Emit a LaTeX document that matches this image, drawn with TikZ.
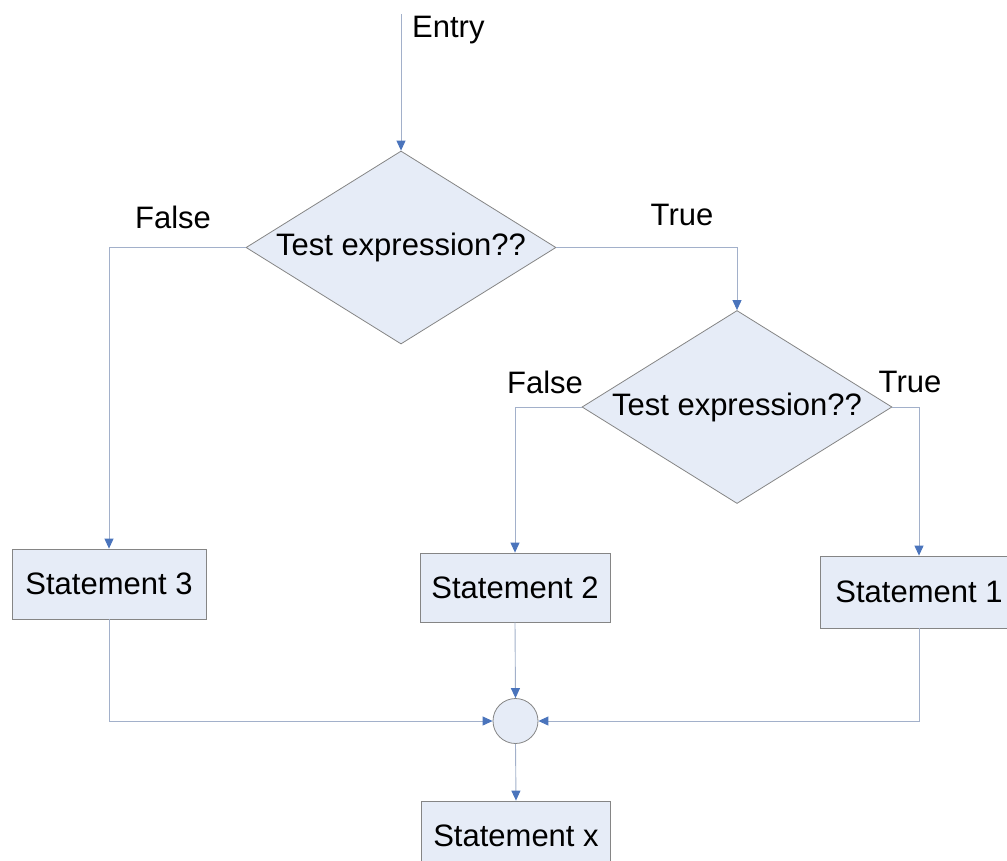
\documentclass[tikz,border=0pt]{standalone}
\usepackage{fontspec}
\setmainfont{Liberation Sans}
\usetikzlibrary{shapes.geometric,arrows.meta}
\definecolor{boxfill}{HTML}{E6ECF7}
\definecolor{boxline}{HTML}{858585}
\definecolor{connline}{HTML}{A2B0CA}
\definecolor{tipblue}{HTML}{4A74BC}
\tikzset{
  every node/.style={font=\fontsize{31}{37}\selectfont},
  decision/.style={diamond, draw=boxline, fill=boxfill, line width=0.8pt,
    aspect=1.6, inner sep=0pt, minimum width=310pt, minimum height=193pt},
  stmt/.style={rectangle, draw=boxline, fill=boxfill, line width=0.8pt,
    inner sep=0pt, minimum height=70pt},
  junction/.style={circle, draw=boxline, fill=boxfill, line width=0.8pt,
    inner sep=0pt, minimum size=45pt},
  conn/.style={draw=connline, line width=0.9pt,
    -{Triangle[length=10pt,width=9pt,color=tipblue,fill=tipblue]}},
  lbl/.style={anchor=base, inner sep=0pt}
}
\begin{document}
\begin{tikzpicture}[x=1pt,y=-1pt]
  \useasboundingbox (0,0) rectangle (1007,860);
  \clip (0,0) rectangle (1007,860);

  % decisions
  \node[decision] (d1) at (401,247.5) {Test expression??};
  \node[decision] (d2) at (737,407) {Test expression??};

  % statements
  \node[stmt, minimum width=194pt] (s3) at (109,584) {Statement 3};
  \node[stmt, minimum width=190pt, minimum height=69pt] (s2) at (515,587.5) {Statement 2};
  \node[stmt, minimum width=198pt, minimum height=72pt] (s1) at (919,592) {Statement 1};
  \node[stmt, minimum width=189pt] (sx) at (516,836) {Statement x};

  % join point
  \node[junction] (j) at (515.5,721) {};

  % entry
  \coordinate (entry) at (401,14);
  \draw[conn] (entry) -- (d1.north);

  % branches
  \draw[conn] (d1.west) -| (s3.north);
  \draw[conn] (d1.east) -| (d2.north);
  \draw[conn] (d2.west) -| (s2.north);
  \draw[conn] (d2.east) -| (s1.north);

  % merging
  \draw[conn] (s3.south) |- (j.west);
  \draw[conn] (s2.south) -- (j.north);
  \draw[conn] (s1.south) |- (j.east);
  \draw[conn] (j.south) -- (sx.north);

  % labels
  \node[lbl, anchor=base west] (lentry) at (412,37) {Entry};
  \node[lbl] (lf1) at (173,228) {False};
  \node[lbl] (lt1) at (682,225) {True};
  \node[lbl] (lf2) at (545,393) {False};
  \node[lbl] (lt2) at (910,392) {True};
\end{tikzpicture}
\end{document}
